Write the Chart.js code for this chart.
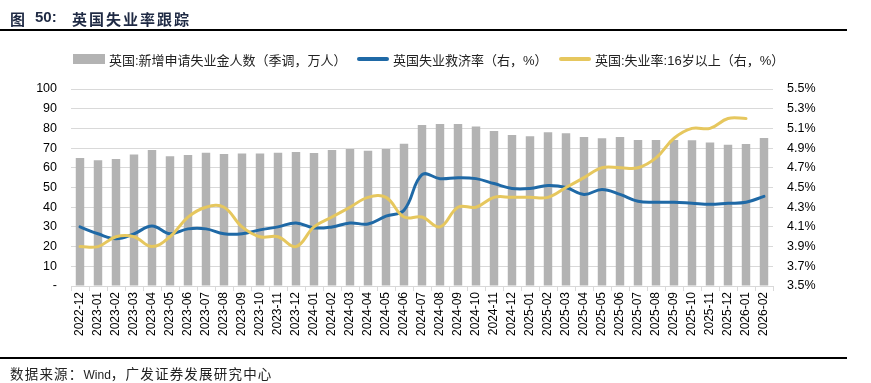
<!DOCTYPE html>
<html>
<head>
<meta charset="utf-8">
<script src="https://cdn.jsdelivr.net/npm/chart.js@4/dist/chart.umd.min.js"></script>
<style>
  html, body { margin: 0; padding: 0; background: #fff; }
  #wrap { position: relative; width: 871px; height: 383px; background: #fff; overflow: hidden;
          font-family: 'Liberation Sans', Arial, 'Noto Sans CJK SC', sans-serif; }
  #c { position: absolute; left: 0; top: 0; }
  .abs { position: absolute; white-space: nowrap; }
  .rule { position: absolute; left: 0; width: 847px; height: 2px; background: #000; }
  .leg { position: absolute; top: 51px; height: 16px; display: flex; align-items: center; font-size: 13px; color: #222; white-space: nowrap; }
  .sw { display: inline-block; margin-right: 4px; }
</style>
</head>
<body>
<div id="wrap">
  <canvas id="c" width="871" height="383"></canvas>
  <div class="abs" style="left:10px;top:8px;font-size:15px;font-weight:bold;color:#1f2a44;">图</div>
  <div class="abs" style="left:35px;top:8px;font-size:15px;font-weight:bold;color:#1f2a44;">50:</div>
  <div class="abs" style="left:72px;top:8px;font-size:15px;font-weight:bold;color:#1f2a44;letter-spacing:2px;">英国失业率跟踪</div>
  <div class="rule" style="top:29px;"></div>
  <div id="legend"></div>
  <div class="rule" style="top:357px;"></div>
  <div class="abs" style="left:10px;top:363px;font-size:13.5px;color:#222;">
    <span style="letter-spacing:1.2px">数据来源：</span><span style="font-size:12px">Wind</span><span style="letter-spacing:1.2px">，广发证券发展研究中心</span>
  </div>
</div>
<script>
// ---- data ----
const categories = [
  '2022-12',
  '2023-01','2023-02','2023-03','2023-04','2023-05','2023-06','2023-07','2023-08','2023-09','2023-10','2023-11','2023-12',
  '2024-01','2024-02','2024-03','2024-04','2024-05','2024-06','2024-07','2024-08','2024-09','2024-10','2024-11','2024-12',
  '2025-01','2025-02','2025-03','2025-04','2025-05','2025-06','2025-07','2025-08','2025-09','2025-10','2025-11','2025-12',
  '2026-01','2026-02'
];
// 英国:新增申请失业金人数（季调，万人）
const claimsValues = [
  65.0,
  63.8, 64.5, 66.8, 69.0, 65.8, 66.5, 67.7, 67.0, 67.2, 67.2, 67.7, 68.0,
  67.5, 69.0, 69.5, 68.7, 69.5, 72.2, 81.7, 82.2, 82.2, 81.0, 78.7, 76.6,
  76.0, 78.0, 77.5, 75.6, 75.0, 75.6, 74.1, 74.1, 74.1, 74.0, 72.8, 71.7,
  72.1, 75.1
];
// 英国失业救济率（右，%）
const claimantRate = [
  4.10,
  4.03, 3.98, 4.03, 4.11, 4.03, 4.08, 4.08, 4.03, 4.03, 4.07, 4.10, 4.14,
  4.09, 4.10, 4.14, 4.13, 4.21, 4.27, 4.63, 4.59, 4.60, 4.59, 4.54, 4.49,
  4.49, 4.52, 4.50, 4.43, 4.48, 4.43, 4.36, 4.35, 4.35, 4.34, 4.33, 4.34,
  4.35, 4.41
];
// 英国:失业率:16岁以上（右，%）
const unemploymentRate = [
  3.9,
  3.9, 4.0, 4.0, 3.9, 4.0, 4.2, 4.3, 4.3, 4.1, 4.0, 4.0, 3.9,
  4.1, 4.2, 4.3, 4.4, 4.4, 4.2, 4.2, 4.1, 4.3, 4.3, 4.4, 4.4,
  4.4, 4.4, 4.5, 4.6, 4.7, 4.7, 4.7, 4.8, 5.0, 5.1, 5.1, 5.2,
  5.2, null
];
const leftTicks = [0, 10, 20, 30, 40, 50, 60, 70, 80, 90, 100];
const rightTicks = [3.5, 3.7, 3.9, 4.1, 4.3, 4.5, 4.7, 4.9, 5.1, 5.3, 5.5];
const seriesNames = ['英国:新增申请失业金人数（季调，万人）', '英国失业救济率（右，%）', '英国:失业率:16岁以上（右，%）'];

const COL_BAR = '#b3b3b3', COL_BLUE = '#1f69a6', COL_YEL = '#e6c75e';

// ---- legend (HTML) ----
const legend = document.getElementById('legend');
const legItems = [
  { x: 73, sw: `<span class="sw" style="width:32px;height:10px;background:${COL_BAR}"></span>` },
  { x: 357, sw: `<span class="sw" style="width:32px;height:4px;border-radius:2px;background:${COL_BLUE}"></span>` },
  { x: 559, sw: `<span class="sw" style="width:32px;height:4px;border-radius:2px;background:${COL_YEL}"></span>` }
];
legItems.forEach((it, i) => {
  const d = document.createElement('div');
  d.className = 'leg';
  d.style.left = it.x + 'px';
  d.innerHTML = it.sw + '<span>' + seriesNames[i] + '</span>';
  legend.appendChild(d);
});

Chart.defaults.font.family = "'Liberation Sans', Arial, 'Noto Sans CJK SC', sans-serif";
Chart.defaults.color = '#000';

new Chart(document.getElementById('c'), {
  type: 'bar',
  data: {
    labels: categories,
    datasets: [
      {
        type: 'line', label: seriesNames[2], data: unemploymentRate, yAxisID: 'y1',
        borderColor: COL_YEL, borderWidth: 3, pointRadius: 0, tension: 0.4, order: 0,
        fill: false, spanGaps: false, borderCapStyle: 'round'
      },
      {
        type: 'line', label: seriesNames[1], data: claimantRate, yAxisID: 'y1',
        borderColor: COL_BLUE, borderWidth: 3, pointRadius: 0, tension: 0.4, order: 1,
        fill: false, borderCapStyle: 'round'
      },
      {
        type: 'bar', label: seriesNames[0], data: claimsValues, yAxisID: 'y',
        backgroundColor: COL_BAR, borderWidth: 0, barPercentage: 0.47, categoryPercentage: 1.0, order: 2
      }
    ]
  },
  options: {
    responsive: false,
    animation: false,
    devicePixelRatio: 1,
    layout: { padding: { top: 89, left: 0, right: 0, bottom: 0 } },
    plugins: { legend: { display: false }, tooltip: { enabled: false }, title: { display: false } },
    scales: {
      x: {
        offset: true,
        grid: { offset: true, drawOnChartArea: false, drawTicks: true, tickLength: 5, color: '#d9d9d9' },
        border: { display: true, color: '#d9d9d9' },
        ticks: { minRotation: 90, maxRotation: 90, autoSkip: false, padding: 1, font: { size: 12 }, color: '#000' },
        afterFit: s => { s.height = 97; }
      },
      y: {
        position: 'left', min: 0, max: 100,
        afterBuildTicks: s => { s.ticks = leftTicks.map(v => ({ value: v })); },
        grid: { color: '#d9d9d9', lineWidth: 1, drawTicks: false },
        border: { display: false },
        ticks: { padding: 14, font: { size: 12.5 }, color: '#000', callback: v => v === 0 ? '-' : String(v) },
        afterFit: s => { s.width = 71; }
      },
      y1: {
        position: 'right', min: 3.5, max: 5.5,
        afterBuildTicks: s => { s.ticks = rightTicks.map(v => ({ value: v })); },
        grid: { drawOnChartArea: false, drawTicks: false },
        border: { display: false },
        ticks: { padding: 14, font: { size: 12.5 }, color: '#000', callback: v => Number(v).toFixed(1) + '%' },
        afterFit: s => { s.width = 98; }
      }
    }
  }
});
</script>
</body>
</html>
